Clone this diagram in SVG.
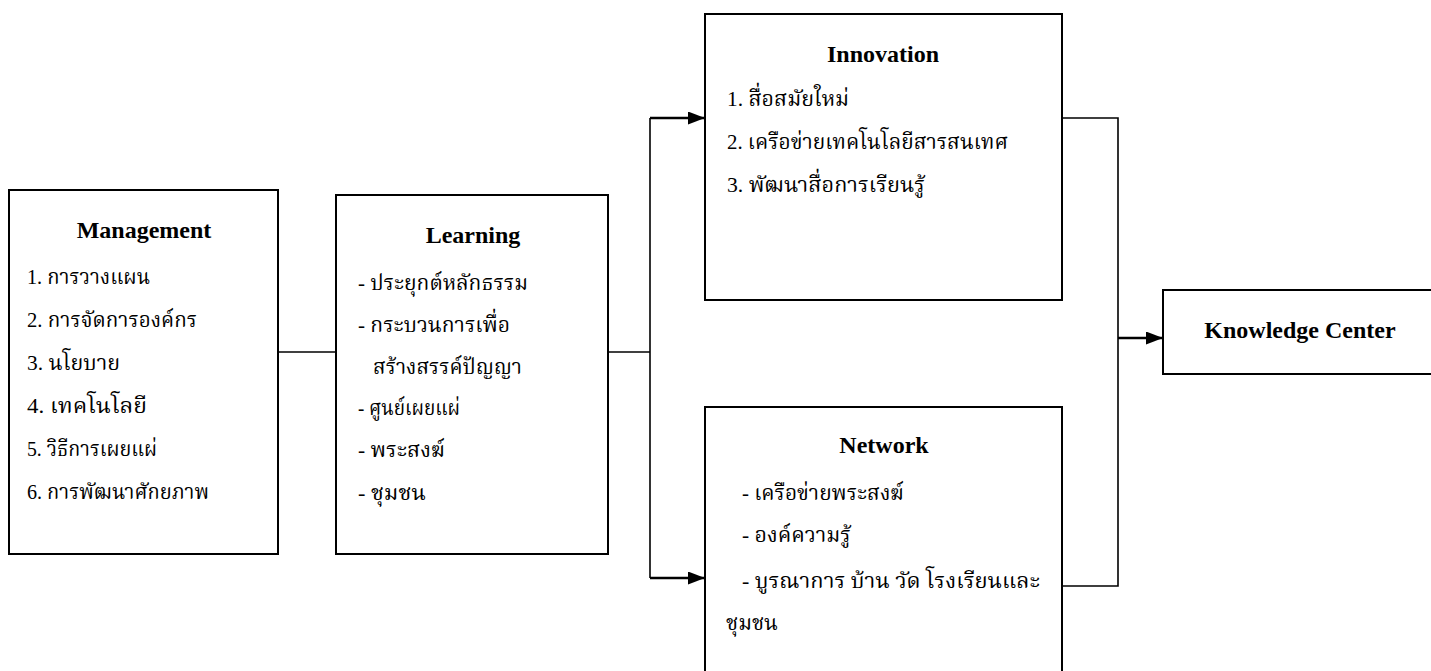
<svg xmlns="http://www.w3.org/2000/svg" width="1431" height="671" viewBox="0 0 1431 671">
<style>
.box{fill:#fff;stroke:#000;stroke-width:2}
.ln{fill:none;stroke:#000;stroke-width:1.6}
.ar{fill:none;stroke:#000;stroke-width:2.4}
.t{font-family:"Liberation Serif","Angsana New","TH Sarabun New","Noto Serif Thai","Kinnari","Norasi","Laksaman","Noto Sans Thai Looped","Noto Sans Thai","Garuda","Loma",serif;font-size:22px;fill:#000}
.h{font-family:"Liberation Serif","Times New Roman",serif;font-size:24px;font-weight:bold;fill:#000;text-anchor:middle}
</style>
<defs>
<marker id="arr" markerUnits="userSpaceOnUse" markerWidth="17" markerHeight="13" viewBox="0 0 17 13" refX="17" refY="6.5" orient="auto">
<path d="M0,0 L17,6.5 L0,13 z" fill="#000"/>
</marker>
</defs>
<rect width="1431" height="671" fill="#fff"/>
<g id="connectors">
<line class="ln" x1="278" y1="352" x2="336" y2="352"/>
<line class="ln" x1="608" y1="352" x2="650" y2="352"/>
<polyline class="ln" points="650,118 650,578"/>
<line class="ar" x1="650" y1="118" x2="705" y2="118" marker-end="url(#arr)"/>
<line class="ar" x1="650" y1="578" x2="705" y2="578" marker-end="url(#arr)"/>
<polyline class="ln" points="1062,118 1118,118 1118,586 1062,586"/>
<line class="ar" x1="1118" y1="338" x2="1163" y2="338" marker-end="url(#arr)"/>
</g>
<g id="management">
<rect class="box" x="9" y="190" width="269" height="364"/>
<text class="h" x="144" y="238">Management</text>
<text class="t" x="27" y="284" textLength="123" lengthAdjust="spacingAndGlyphs">1. การวางแผน</text>
<text class="t" x="27" y="327" textLength="170" lengthAdjust="spacingAndGlyphs">2. การจัดการองค์กร</text>
<text class="t" x="27" y="370" textLength="93" lengthAdjust="spacingAndGlyphs">3. นโยบาย</text>
<text class="t" x="27" y="413" textLength="120" lengthAdjust="spacingAndGlyphs">4. เทคโนโลยี</text>
<text class="t" x="27" y="456" textLength="130" lengthAdjust="spacingAndGlyphs">5. วิธีการเผยแผ่</text>
<text class="t" x="27" y="499" textLength="182" lengthAdjust="spacingAndGlyphs">6. การพัฒนาศักยภาพ</text>
</g>
<g id="learning">
<rect class="box" x="336" y="195" width="272" height="359"/>
<text class="h" x="473" y="243">Learning</text>
<text class="t" x="358" y="290" textLength="170" lengthAdjust="spacingAndGlyphs">- ประยุกต์หลักธรรม</text>
<text class="t" x="358" y="332" textLength="152" lengthAdjust="spacingAndGlyphs">- กระบวนการเพื่อ</text>
<text class="t" x="373" y="374" textLength="149" lengthAdjust="spacingAndGlyphs">สร้างสรรค์ปัญญา</text>
<text class="t" x="358" y="415" textLength="102" lengthAdjust="spacingAndGlyphs">- ศูนย์เผยแผ่</text>
<text class="t" x="358" y="457" textLength="87" lengthAdjust="spacingAndGlyphs">- พระสงฆ์</text>
<text class="t" x="358" y="500" textLength="68" lengthAdjust="spacingAndGlyphs">- ชุมชน</text>
</g>
<g id="innovation">
<rect class="box" x="705" y="14" width="357" height="286"/>
<text class="h" x="883" y="62">Innovation</text>
<text class="t" x="727" y="106" textLength="122" lengthAdjust="spacingAndGlyphs">1. สื่อสมัยใหม่</text>
<text class="t" x="727" y="149" textLength="281" lengthAdjust="spacingAndGlyphs">2. เครือข่ายเทคโนโลยีสารสนเทศ</text>
<text class="t" x="727" y="192" textLength="198" lengthAdjust="spacingAndGlyphs">3. พัฒนาสื่อการเรียนรู้</text>
</g>
<g id="network">
<rect class="box" x="705" y="407" width="357" height="280"/>
<text class="h" x="884" y="453">Network</text>
<text class="t" x="742" y="500" textLength="162" lengthAdjust="spacingAndGlyphs">- เครือข่ายพระสงฆ์</text>
<text class="t" x="742" y="542" textLength="109" lengthAdjust="spacingAndGlyphs">- องค์ความรู้</text>
<text class="t" x="742" y="588" textLength="298" lengthAdjust="spacingAndGlyphs">- บูรณาการ บ้าน วัด โรงเรียนและ</text>
<text class="t" x="726" y="630" textLength="52" lengthAdjust="spacingAndGlyphs">ชุมชน</text>
</g>
<g id="knowledge-center">
<rect class="box" x="1163" y="290" width="290" height="84"/>
<text class="h" x="1300" y="338">Knowledge Center</text>
</g>
</svg>
